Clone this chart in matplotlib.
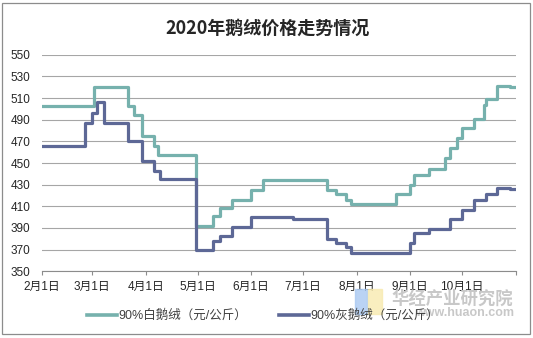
import matplotlib
matplotlib.use("Agg")
import matplotlib.pyplot as plt
import matplotlib.dates as mdates
from matplotlib.patches import Rectangle
import pandas as pd

plt.rcParams['font.family'] = ['Liberation Sans', 'Noto Sans CJK SC', 'DejaVu Sans']

title = '2020年鹅绒价格走势情况'
white_label = '90%白鹅绒（元/公斤）'
grey_label = '90%灰鹅绒（元/公斤）'

# change points: price holds until the next date
white_dates = ['2020-02-01', '2020-03-02', '2020-03-22', '2020-03-25', '2020-03-30',
               '2020-04-06', '2020-04-08', '2020-04-30', '2020-05-10', '2020-05-14',
               '2020-05-21', '2020-06-01', '2020-06-08', '2020-07-15', '2020-07-20',
               '2020-07-26', '2020-07-29', '2020-08-24', '2020-09-01', '2020-09-03',
               '2020-09-12', '2020-09-21', '2020-09-24', '2020-09-28', '2020-10-01',
               '2020-10-08', '2020-10-14', '2020-10-15', '2020-10-21', '2020-10-29',
               '2020-11-01']
white_vals = [503, 520, 503, 494, 475, 466, 457, 392, 401, 408, 416, 425, 434, 425, 421,
              416, 412, 421, 430, 439, 444, 455, 464, 473, 482, 491, 504, 509, 521, 520,
              520]

grey_dates = ['2020-02-01', '2020-02-26', '2020-03-01', '2020-03-04', '2020-03-08',
              '2020-03-22', '2020-03-30', '2020-04-06', '2020-04-09', '2020-04-30',
              '2020-05-10', '2020-05-14', '2020-05-21', '2020-06-01', '2020-06-25',
              '2020-07-15', '2020-07-20', '2020-07-26', '2020-07-29', '2020-09-01',
              '2020-09-03', '2020-09-12', '2020-09-24', '2020-10-01', '2020-10-08',
              '2020-10-15', '2020-10-21', '2020-10-29', '2020-11-01']
grey_vals = [466, 487, 496, 506, 487, 470, 452, 443, 435, 370, 378, 383, 391, 400, 398,
             380, 376, 372, 367, 376, 385, 389, 398, 407, 416, 421, 427, 426, 426]

month_ticks = ['2020-02-01', '2020-03-01', '2020-04-01', '2020-05-01', '2020-06-01',
               '2020-07-01', '2020-08-01', '2020-09-01', '2020-10-01', '2020-11-01']
month_labels = ['2月1日', '3月1日', '4月1日', '5月1日', '6月1日', '7月1日', '8月1日',
                '9月1日', '10月1日', '']
y_ticks = list(range(350, 551, 20))

fig = plt.figure(figsize=(5.33, 3.38), dpi=100)
fig.patches.append(Rectangle((0.004, 0.012), 0.99, 0.98, transform=fig.transFigure,
                             fill=False, edgecolor='#8c8c8c', linewidth=0.9))

# watermark
fig.patches.append(Rectangle((355 / 533, 1 - 314 / 338), 12 / 533, 25 / 338,
                             transform=fig.transFigure, color='#a9c9f2', alpha=0.8, zorder=0))
fig.patches.append(Rectangle((368 / 533, 1 - 314 / 338), 14 / 533, 25 / 338,
                             transform=fig.transFigure, color='#f8eab0', alpha=0.8, zorder=0))
fig.text(452 / 533, 1 - 299 / 338, '华经产业研究院', fontsize=12.5, color='#c8c8c8',
         weight='bold', ha='center', va='center', family=['Noto Sans CJK SC'], zorder=0)
fig.text(514 / 533, 1 - 313 / 338, 'www.huaon.com', fontsize=9, color='#c8c8c8',
         weight='bold', ha='right', va='center', zorder=0)

ax = fig.add_axes([0.0788, 0.1973, 0.8884, 0.6409])
ax.plot(pd.to_datetime(white_dates), white_vals, drawstyle='steps-post',
        color='#76b1ad', lw=2.3, label=white_label, solid_joinstyle='round')
ax.plot(pd.to_datetime(grey_dates), grey_vals, drawstyle='steps-post',
        color='#5d6896', lw=2.3, label=grey_label, solid_joinstyle='round')

ax.set_xlim(pd.Timestamp('2020-02-01'), pd.Timestamp('2020-11-01'))
ax.set_ylim(350, 550)
ax.set_yticks(y_ticks)
ax.set_xticks(pd.to_datetime(month_ticks))
ax.set_xticklabels(month_labels)
ax.grid(axis='y', color='#a6a6a6', lw=0.8)
ax.set_axisbelow(True)
for s in ['left', 'right', 'top']:
    ax.spines[s].set_visible(False)
ax.spines['bottom'].set_color('#8c8c8c')
ax.spines['bottom'].set_linewidth(0.8)
ax.tick_params(axis='y', length=0, pad=8.5, labelsize=8.5, labelcolor='#262626')
ax.tick_params(axis='x', length=3, width=0.8, color='#8c8c8c', pad=4,
               labelsize=8.5, labelcolor='#262626')
ax.patch.set_alpha(0)

fig.text(0.501, 1 - 28 / 338, title, fontsize=13, weight='bold', ha='center',
         va='center', color='#262626', family=['Noto Sans CJK SC'])

leg = fig.legend(loc='center', bbox_to_anchor=(263 / 533, 1 - 316 / 338), ncol=2,
                 frameon=False, fontsize=9, handlelength=2.4, handletextpad=0.1,
                 columnspacing=2.6, labelcolor='#404040')
for line in leg.get_lines():
    line.set_linewidth(2.6)

fig.savefig('out.png', dpi=100)
